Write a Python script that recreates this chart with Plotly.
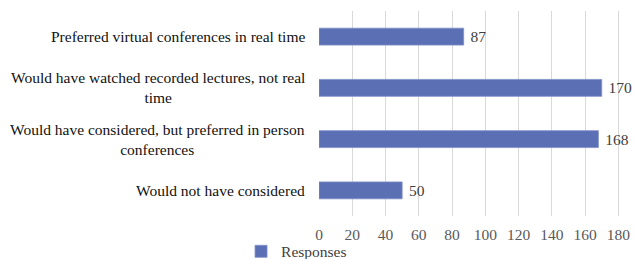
import plotly.graph_objects as go

categories = [
    "Preferred virtual conferences in real time",
    "Would have watched recorded lectures, not real<br>time",
    "Would have considered, but preferred in person<br>conferences",
    "Would not have considered",
]
category_ids = ["c1", "c2", "c3", "c4"]
responses = [87, 170, 168, 50]
series_name = "Responses"
tick_values = [0, 20, 40, 60, 80, 100, 120, 140, 160, 180]

FONT = "Liberation Serif"

fig = go.Figure()
fig.add_trace(go.Bar(
    x=responses,
    y=category_ids,
    orientation="h",
    name=series_name,
    marker=dict(color="#5b6fb4", line=dict(color="#7f8fc6", width=0.8)),
    width=0.33,
    text=[f" {v}" for v in responses],
    textposition="outside",
    textfont=dict(family=FONT, size=15.5, color="#404040"),
    cliponaxis=False,
    constraintext="none",
    showlegend=True,
))

for cid, label in zip(category_ids, categories):
    fig.add_annotation(
        x=0, xref="paper", y=cid, yref="y",
        text=label, showarrow=False,
        xanchor="right", yanchor="middle", align="center",
        xshift=-12,
        font=dict(family=FONT, size=15.5, color="#111111"),
    )

fig.update_layout(
    width=636, height=259,
    margin=dict(l=319, r=16, t=11, b=43, autoexpand=False),
    paper_bgcolor="white", plot_bgcolor="white",
    font=dict(family=FONT, size=15.5, color="#595959"),
    showlegend=True,
    legend=dict(
        orientation="h",
        xref="container", x=0.379, xanchor="left",
        yref="container", y=0.028, yanchor="middle",
        bgcolor="rgba(0,0,0,0)",
        font=dict(family=FONT, size=15.5, color="#404040"),
        itemwidth=30,
        tracegroupgap=0,
    ),
    xaxis=dict(
        range=[0, 181],
        tickvals=tick_values,
        showgrid=True, gridcolor="#d9d9d9", gridwidth=1,
        zeroline=False,
        showline=False,
        ticks="",
        ticklabelstandoff=7,
        tickfont=dict(family=FONT, size=15.5, color="#595959"),
        automargin=False,
    ),
    yaxis=dict(
        autorange="reversed",
        categoryorder="array", categoryarray=category_ids,
        showticklabels=False,
        showgrid=False, zeroline=False, showline=False, ticks="",
        automargin=False,
    ),
)

fig.write_html(
    "out.html",
    config={"displayModeBar": False},
    post_script="document.body.style.margin='0';document.body.style.overflow='hidden';",
)
